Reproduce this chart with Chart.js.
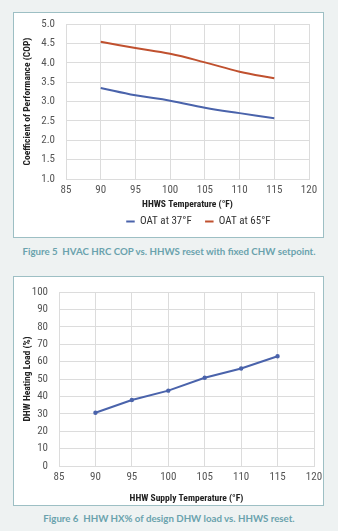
<!DOCTYPE html>
<html>
<head>
<meta charset="utf-8">
<title>HRC COP and DHW load</title>
<script src="https://cdn.jsdelivr.net/npm/chart.js@4"></script>
<style>
  body { margin:0; background:#eef2f2; width:338px; height:531px; position:relative; overflow:hidden; }
  .panel { position:absolute; left:13px; width:309px; background:#fff; border:1px solid #9dbfc4; }
  .panel canvas { display:block; }
  .cap { position:absolute; left:0; width:338px; text-align:center; font:bold 9.7px Lato, sans-serif; color:#6aa2ad; }
</style>
</head>
<body>
<div class="panel" style="top:12px;height:224px"><canvas id="cop" width="309" height="224"></canvas></div>
<div class="cap" style="top:245px">Figure 5&nbsp; HVAC HRC COP vs. HHWS reset with fixed CHW setpoint.</div>
<div class="panel" style="top:276px;height:228px"><canvas id="dhw" width="309" height="228"></canvas></div>
<div class="cap" style="top:512px">Figure 6&nbsp; HHW HX% of design DHW load vs. HHWS reset.</div>
<script>
// data
var hhwsTemps = [90, 95, 100, 105, 110, 115];
var copOat37 = [3.35, 3.16, 3.02, 2.84, 2.70, 2.57];
var copOat65 = [4.54, 4.38, 4.23, 4.01, 3.77, 3.60];
var dhwLoadPct = [30.6, 37.9, 43.3, 50.7, 56.0, 63.1];

// look for a face that really narrows with font-stretch
var ctx0 = document.createElement('canvas').getContext('2d');
function w(font) { ctx0.font = font; return ctx0.measureText('Coefficient 0123').width; }
var fam = "'Liberation Sans', sans-serif", cond = '';
['Roboto', 'Noto Sans', 'Open Sans', 'DejaVu Sans', 'Liberation Sans'].some(function (f) {
  var q = "'" + f + "'";
  if (w('condensed 40px ' + q) < w('40px ' + q) - 2) { fam = q + ', sans-serif'; cond = 'condensed'; return true; }
  return false;
});
var tickSize = cond ? 11 : 10;

function fitSize(text, px, max) {
  ctx0.font = 'bold ' + cond + ' 10px ' + fam;
  return Math.max(9.5, Math.min(max, 10 * px / ctx0.measureText(text).width));
}

var gridCol = '#dcdcdc';

function pts(xs, ys) {
  return xs.map(function (x, i) { return { x: x, y: ys[i] }; });
}

function xAxis(title, len, h, pb) {
  return {
    type: 'linear', min: 85, max: 120,
    ticks: { stepSize: 5, autoSkip: false, maxRotation: 0, padding: 5, color: '#555',
             font: { family: fam, size: tickSize, weight: cond || 'normal' } },
    grid: { color: gridCol, drawTicks: false },
    border: { color: gridCol },
    title: { display: true, text: title, color: '#222', padding: { top: 0, bottom: pb },
             font: { family: fam, size: fitSize(title, len, 12), weight: 'bold ' + cond } },
    afterFit: function (s) { s.height = h; s.paddingLeft = 0; s.paddingRight = 0; }
  };
}

function yAxis(title, len, min, max, step, dec, w) {
  return {
    min: min, max: max,
    ticks: { stepSize: step, padding: 11, color: '#555',
             font: { family: fam, size: tickSize, weight: cond || 'normal' },
             callback: function (v) { return v.toFixed(dec); } },
    grid: { color: gridCol, drawTicks: false },
    border: { color: gridCol },
    title: { display: true, text: title, color: '#222', padding: { top: 8, bottom: 0 },
             font: { family: fam, size: fitSize(title, len, 11), weight: 'bold ' + cond } },
    afterFit: function (s) { s.width = w; s.paddingTop = 0; s.paddingBottom = 0; }
  };
}

// the legend in the figure sits a little right of the plot centre
var legendNudge = {
  id: 'legendNudge',
  afterLayout: function (chart) {
    if (chart.legend) { chart.legend.left += 11; chart.legend.right += 11; }
  }
};

new Chart(document.getElementById('cop'), {
  type: 'line',
  data: {
    datasets: [
      { label: 'OAT at 37°F', data: pts(hhwsTemps, copOat37), borderColor: '#4a63ab', backgroundColor: '#4a63ab',
        borderWidth: 2, pointRadius: 0, tension: 0.4 },
      { label: 'OAT at 65°F', data: pts(hhwsTemps, copOat65), borderColor: '#c0512f', backgroundColor: '#c0512f',
        borderWidth: 2, pointRadius: 0, tension: 0.4 }
    ]
  },
  plugins: [legendNudge],
  options: {
    responsive: false, animation: false,
    layout: { padding: { left: 0, right: 14, top: 11, bottom: 0 } },
    plugins: {
      legend: { position: 'bottom', fullSize: false,
        labels: { usePointStyle: true, pointStyle: 'line', boxWidth: 8, boxHeight: 6, padding: 4, color: '#333',
                  font: { family: fam, size: tickSize, weight: cond || 'normal' },
                  generateLabels: function (chart) {
                    var items = Chart.defaults.plugins.legend.labels.generateLabels(chart);
                    items[0].text += '\u2003';
                    return items;
                  } } },
      tooltip: { enabled: false }
    },
    scales: {
      x: xAxis('HHWS Temperature (°F)', 90, 33, 2),
      y: yAxis('Coefficient of Performance (COP)', 128, 1, 5, 0.5, 1, 52)
    }
  }
});

new Chart(document.getElementById('dhw'), {
  type: 'line',
  data: {
    datasets: [
      { label: 'DHW Heating Load', data: pts(hhwsTemps, dhwLoadPct), borderColor: '#4a63ab', backgroundColor: '#4a63ab',
        borderWidth: 2, pointRadius: 1.2, tension: 0 }
    ]
  },
  options: {
    responsive: false, animation: false,
    layout: { padding: { left: 0, right: 9, top: 15, bottom: 0 } },
    plugins: { legend: { display: false }, tooltip: { enabled: false } },
    scales: {
      x: xAxis('HHW Supply Temperature (°F)', 111, 39, 1),
      y: yAxis('DHW Heating Load (%)', 84, 0, 100, 10, 0, 45)
    }
  }
});
</script>
</body>
</html>
